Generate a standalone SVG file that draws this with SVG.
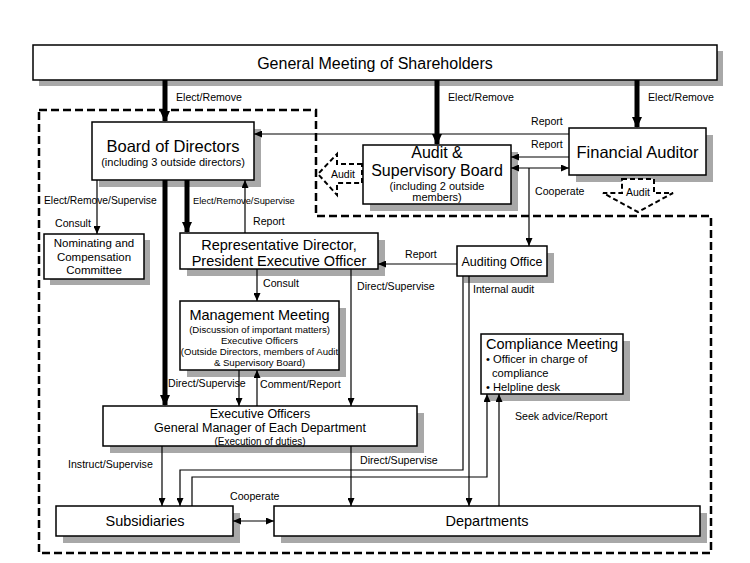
<svg xmlns="http://www.w3.org/2000/svg" width="750" height="563" viewBox="0 0 750 563">
<defs>
<marker id="a" viewBox="0 0 8 7" refX="8" refY="3.5" markerWidth="8" markerHeight="7" markerUnits="userSpaceOnUse" orient="auto-start-reverse"><path d="M0,0 L8,3.5 L0,7 z" fill="#000"/></marker>
<marker id="t" viewBox="0 0 11 10" refX="10" refY="5" markerWidth="11" markerHeight="10" markerUnits="userSpaceOnUse" orient="auto"><path d="M0,0 L11,5 L0,10 z" fill="#000"/></marker>
</defs>
<style>
text{font-family:"Liberation Sans",Arial,sans-serif;fill:#000}
.box{fill:#fff;stroke:#000;stroke-width:1.5}
.sh{fill:#a8a8a8}
.c{text-anchor:middle}
.thin{fill:none;stroke:#000;stroke-width:1.2}
.thick{fill:none;stroke:#000;stroke-width:5}
.dash{fill:none;stroke:#000;stroke-width:2.5;stroke-dasharray:8 4}
.blk{fill:#fff;stroke:#000;stroke-width:2;stroke-dasharray:5 3}
.l{font-size:10.6px}
</style>
<rect width="750" height="563" fill="#fff"/>
<path class="dash" d="M39,110 H316 V216 H711 V553 H39 Z"/>

<g id="gm"><rect class="sh" x="39" y="51" width="684" height="35"/><rect class="box" x="33" y="45" width="684" height="35"/><text class="c" x="375" y="69" font-size="16">General Meeting of Shareholders</text></g>

<g id="bod"><rect class="sh" x="99" y="129" width="162" height="58"/><rect class="box" x="92" y="122" width="162" height="58"/><text class="c" x="173" y="152" font-size="16.5">Board of Directors</text><text class="c" x="173" y="166" font-size="11">(including 3 outside directors)</text></g>

<g id="asb"><rect class="sh" x="370" y="152" width="148" height="59"/><rect class="box" x="363" y="145" width="148" height="59"/><text class="c" x="437" y="157.5" font-size="16">Audit &amp;</text><text class="c" x="437" y="175.5" font-size="16">Supervisory Board</text><text class="c" x="437" y="190" font-size="11">(including 2 outside</text><text class="c" x="437" y="201" font-size="11">members)</text></g>

<g id="fa"><rect class="sh" x="576" y="135" width="137" height="47"/><rect class="box" x="569" y="128" width="137" height="47"/><text class="c" x="637.5" y="158" font-size="16.5">Financial Auditor</text></g>

<g id="audit-left"><path class="blk" d="M362,164 H337 V154 L318,174 L337,195 V183 H362 Z"/><text class="c" x="343" y="177.5" font-size="10.5">Audit</text></g>

<g id="audit-down"><path class="blk" d="M622,179 H654 V193 H673 L638,212 L603,193 H622 Z"/><text class="c" x="638" y="196" font-size="10.5">Audit</text></g>

<g id="ncc"><rect class="sh" x="50" y="240" width="100" height="45"/><rect class="box" x="44" y="234" width="100" height="45"/><text class="c" x="94" y="247" font-size="11.5">Nominating and</text><text class="c" x="94" y="261" font-size="11.5">Compensation</text><text class="c" x="94" y="274" font-size="11.5">Committee</text></g>

<g id="rd"><rect class="sh" x="187" y="240" width="198" height="36"/><rect class="box" x="180" y="233" width="198" height="36"/><text class="c" x="279" y="250" font-size="14.5">Representative Director,</text><text class="c" x="279" y="266" font-size="14.5">President Executive Officer</text></g>

<g id="ao"><rect class="sh" x="464" y="253" width="90" height="30"/><rect class="box" x="457" y="246" width="90" height="30"/><text class="c" x="502" y="265.5" font-size="12.5">Auditing Office</text></g>

<g id="mm"><rect class="sh" x="187" y="308" width="159" height="69"/><rect class="box" x="180" y="301" width="159" height="69"/><text class="c" x="259.5" y="319.5" font-size="14.5">Management Meeting</text><text class="c" x="259.5" y="332.5" font-size="9.6">(Discussion of important matters)</text><text class="c" x="259.5" y="344" font-size="9.6">Executive Officers</text><text class="c" x="259.5" y="355" font-size="9.6">(Outside Directors, members of Audit</text><text class="c" x="259.5" y="366" font-size="9.6">&amp; Supervisory Board)</text></g>

<g id="cm"><rect class="sh" x="488" y="341" width="142" height="60"/><rect class="box" x="481" y="334" width="142" height="60"/><text x="486" y="349" font-size="14.5">Compliance Meeting</text><text x="486" y="363" font-size="11.2">• Officer in charge of</text><text x="492" y="377" font-size="11.2">compliance</text><text x="486" y="391" font-size="11.2">• Helpline desk</text></g>

<g id="eo"><rect class="sh" x="110" y="413" width="314" height="40"/><rect class="box" x="103" y="406" width="314" height="40"/><text class="c" x="260" y="417.5" font-size="12.5">Executive Officers</text><text class="c" x="260" y="432" font-size="12.5">General Manager of Each Department</text><text class="c" x="260" y="444.5" font-size="10">(Execution of duties)</text></g>

<g id="sub"><rect class="sh" x="63" y="513" width="177" height="30"/><rect class="box" x="56" y="506" width="177" height="30"/><text class="c" x="145" y="526" font-size="14.5">Subsidiaries</text></g>

<g id="dep"><rect class="sh" x="281" y="513" width="426" height="30"/><rect class="box" x="274" y="506" width="426" height="30"/><text class="c" x="487" y="526" font-size="14.5">Departments</text></g>

<g id="connectors">
<path class="thick" d="M165,80 V121" marker-end="url(#t)"/>
<path class="thick" d="M437,80 V144" marker-end="url(#t)"/>
<path class="thick" d="M637,80 V127" marker-end="url(#t)"/>
<path class="thick" d="M165,180 V405" marker-end="url(#t)"/>
<path class="thick" d="M187,180 V232" marker-end="url(#t)"/>
<path class="thin" d="M569,134 H254" marker-end="url(#a)"/>
<path class="thin" d="M569,157 H511" marker-end="url(#a)"/>
<path class="thin" d="M511,168 H569" marker-start="url(#a)" marker-end="url(#a)"/>
<path class="thin" d="M529,168 V246" marker-end="url(#a)"/>
<path class="thin" d="M97,180 V234" marker-end="url(#a)"/>
<path class="thin" d="M245,233 V180" marker-end="url(#a)"/>
<path class="thin" d="M457,264 H378" marker-end="url(#a)"/>
<path class="thin" d="M257,269 V301" marker-end="url(#a)"/>
<path class="thin" d="M351,269 V406" marker-end="url(#a)"/>
<path class="thin" d="M239,370 V406" marker-end="url(#a)"/>
<path class="thin" d="M257,406 V370" marker-end="url(#a)"/>
<path class="thin" d="M162,446 V506" marker-end="url(#a)"/>
<path class="thin" d="M351,446 V506" marker-end="url(#a)"/>
<path class="thin" d="M233,521 H274" marker-start="url(#a)" marker-end="url(#a)"/>
<path class="thin" d="M463,276 V470 H180 V506" marker-end="url(#a)"/>
<path class="thin" d="M469,276 V506" marker-end="url(#a)"/>
<path class="thin" d="M192,506 V477 H487 V394" marker-end="url(#a)"/>
<path class="thin" d="M499,506 V394" marker-end="url(#a)"/>
<text class="l" x="176" y="101">Elect/Remove</text>
<text class="l" x="448" y="101">Elect/Remove</text>
<text class="l" x="648" y="101">Elect/Remove</text>
<text class="l" x="531" y="125">Report</text>
<text class="l" x="531" y="148">Report</text>
<text class="l" x="535" y="195">Cooperate</text>
<text x="44" y="204" font-size="10.3">Elect/Remove/Supervise</text>
<text class="l" x="55" y="227">Consult</text>
<text x="193" y="203.5" font-size="9.3">Elect/Remove/Supervise</text>
<text class="l" x="253" y="225">Report</text>
<text class="l" x="405" y="258">Report</text>
<text class="l" x="263" y="287">Consult</text>
<text class="l" x="357" y="290">Direct/Supervise</text>
<text class="l" x="473" y="293">Internal audit</text>
<text class="l" x="168" y="387">Direct/Supervise</text>
<text class="l" x="260" y="388">Comment/Report</text>
<text class="l" x="515" y="420">Seek advice/Report</text>
<text class="l" x="68" y="468">Instruct/Supervise</text>
<text class="l" x="360" y="464">Direct/Supervise</text>
<text class="l" x="230" y="500">Cooperate</text>
</g>
</svg>
